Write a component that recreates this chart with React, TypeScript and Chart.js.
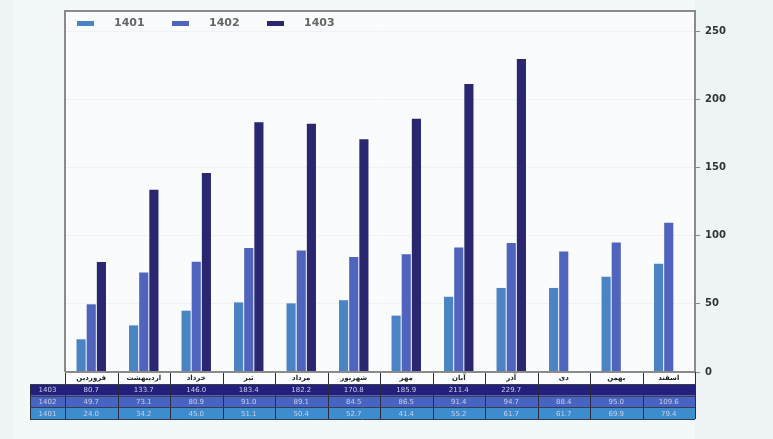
import React, { useEffect, useRef } from "react";
import { Chart, registerables } from "chart.js";

Chart.register(...registerables);

const months = ["فروردین", "اردیبهشت", "خرداد", "تیر", "مرداد", "شهریور", "مهر", "آبان", "آذر", "دی", "بهمن", "اسفند"];
const series1401 = [24.0, 34.2, 45.0, 51.1, 50.4, 52.7, 41.4, 55.2, 61.7, 61.7, 69.9, 79.4];
const series1402 = [49.7, 73.1, 80.9, 91.0, 89.1, 84.5, 86.5, 91.4, 94.7, 88.4, 95.0, 109.6];
const series1403 = [80.7, 133.7, 146.0, 183.4, 182.2, 170.8, 185.9, 211.4, 229.7, null, null, null];
const seriesLabels = ["1401", "1402", "1403"];
const yTicks = [0, 50, 100, 150, 200, 250];
const barColors = ["#4a84c4", "#5064bd", "#2a2670"];
const rowColors = ["#3d8ccd", "#4764c2", "#22207a"];

const customPlugin = {
  id: "customDecor",
  beforeDraw(chart: any) {
    const { ctx, chartArea: a, width, height } = chart;
    ctx.save();
    ctx.fillStyle = "#eef4f6";
    ctx.fillRect(0, 0, width, height);
    ctx.fillStyle = "#f3f8f9";
    ctx.fillRect(14, 0, a.right - 14, height);
    ctx.fillStyle = "#f9fbfc";
    ctx.fillRect(a.left, a.top, a.right - a.left, a.bottom - a.top);
    ctx.restore();
  },
  afterDraw(chart: any) {
    const { ctx, chartArea: a } = chart;
    const xs = chart.scales.x;
    const n = months.length;
    const cw = (a.right - a.left) / n;
    ctx.save();
    // frame
    ctx.strokeStyle = "#8a8a8a";
    ctx.lineWidth = 2;
    ctx.beginPath();
    ctx.moveTo(a.left, a.bottom);
    ctx.lineTo(a.left, a.top);
    ctx.lineTo(a.right, a.top);
    ctx.stroke();

    // legend
    ctx.font = "bold 11px 'DejaVu Sans'";
    ctx.textBaseline = "middle";
    ctx.textAlign = "left";
    chart.data.datasets.forEach((ds: any, i: number) => {
      const bx = 77 + i * 95;
      ctx.fillStyle = ds.backgroundColor;
      ctx.fillRect(bx, 21, 17, 5);
      ctx.fillStyle = "#666";
      ctx.fillText(ds.label, bx + 37, 23);
    });

    // table
    const hTop = a.bottom;
    const hH = 12;
    const rH = 11.7;
    const labelLeft = 30;
    ctx.fillStyle = "#fbfcfd";
    ctx.fillRect(a.left, hTop, a.right - a.left, hH);
    const rowsData = [
      { label: seriesLabels[2], data: chart.data.datasets[2].data, color: rowColors[2] },
      { label: seriesLabels[1], data: chart.data.datasets[1].data, color: rowColors[1] },
      { label: seriesLabels[0], data: chart.data.datasets[0].data, color: rowColors[0] },
    ];
    rowsData.forEach((r, ri) => {
      const y = hTop + hH + ri * rH;
      ctx.fillStyle = r.color;
      ctx.fillRect(labelLeft, y, a.right - labelLeft, rH);
    });
    const tableBottom = hTop + hH + 3 * rH;
    ctx.strokeStyle = "#2a2a3a";
    ctx.lineWidth = 1;
    for (let i = 0; i <= n; i++) {
      const x = Math.round(a.left + i * cw) + 0.5;
      ctx.beginPath();
      ctx.moveTo(x, hTop);
      ctx.lineTo(x, tableBottom);
      ctx.stroke();
    }
    ctx.beginPath();
    ctx.moveTo(labelLeft + 0.5, hTop + hH);
    ctx.lineTo(labelLeft + 0.5, tableBottom);
    ctx.stroke();
    ctx.strokeStyle = "#3a3a55";
    for (let k = 0; k <= 3; k++) {
      const y = Math.round(hTop + hH + k * rH) + 0.5;
      ctx.beginPath();
      ctx.moveTo(labelLeft, y);
      ctx.lineTo(a.right, y);
      ctx.stroke();
    }
    ctx.fillStyle = "#222";
    ctx.font = "bold 7px 'DejaVu Sans'";
    ctx.textAlign = "center";
    months.forEach((m, i) => {
      ctx.fillText(m, xs.getPixelForValue(i), hTop + hH / 2 + 0.5);
    });
    ctx.font = "7px 'DejaVu Sans'";
    rowsData.forEach((r, ri) => {
      const y = hTop + hH + ri * rH + rH / 2 + 0.5;
      ctx.fillStyle = "#c9cfe8";
      ctx.fillText(r.label, (labelLeft + a.left) / 2, y);
      r.data.forEach((v: any, i: number) => {
        if (v === null || v === undefined) return;
        ctx.fillText(Number(v).toFixed(1), xs.getPixelForValue(i), y);
      });
    });
    ctx.strokeStyle = "#8a8a8a";
    ctx.lineWidth = 2;
    ctx.beginPath();
    ctx.moveTo(a.left, a.bottom);
    ctx.lineTo(a.right, a.bottom);
    ctx.stroke();
    ctx.restore();
  },
};

export default function App() {
  const ref = useRef<HTMLCanvasElement | null>(null);
  useEffect(() => {
    if (!ref.current) return;
    const chart = new Chart(ref.current, {
      type: "bar",
      data: {
        labels: months,
        datasets: [
          { label: seriesLabels[0], data: series1401, backgroundColor: barColors[0] },
          { label: seriesLabels[1], data: series1402, backgroundColor: barColors[1] },
          { label: seriesLabels[2], data: series1403 as any, backgroundColor: barColors[2] },
        ],
      },
      options: {
        responsive: false,
        animation: false,
        layout: { padding: { left: 65, top: 8, bottom: 67, right: 0 } },
        datasets: { bar: { categoryPercentage: 0.58, barPercentage: 0.9 } },
        plugins: { legend: { display: false }, tooltip: { enabled: false } },
        scales: {
          x: { display: false },
          y: {
            position: "right",
            min: 0,
            max: 265,
            afterFit: (s: any) => { s.width = 78; },
            afterBuildTicks: (s: any) => {
              s.ticks = yTicks.map((v) => ({ value: v }));
            },
            border: { display: true, color: "#8a8a8a", width: 2 },
            grid: { color: "#eef2f4", tickColor: "#8a8a8a", tickLength: 5, lineWidth: 1 },
            ticks: {
              padding: 5,
              color: "#333",
              font: { family: "'DejaVu Sans'", size: 10, weight: "bold" },
            },
          },
        },
      },
      plugins: [customPlugin],
    });
    return () => chart.destroy();
  }, []);
  return (
    <div style={{ position: "fixed", left: 0, top: 0, width: 773, height: 439 }}>
      <canvas ref={ref} width={773} height={439} style={{ display: "block" }} />
    </div>
  );
}
